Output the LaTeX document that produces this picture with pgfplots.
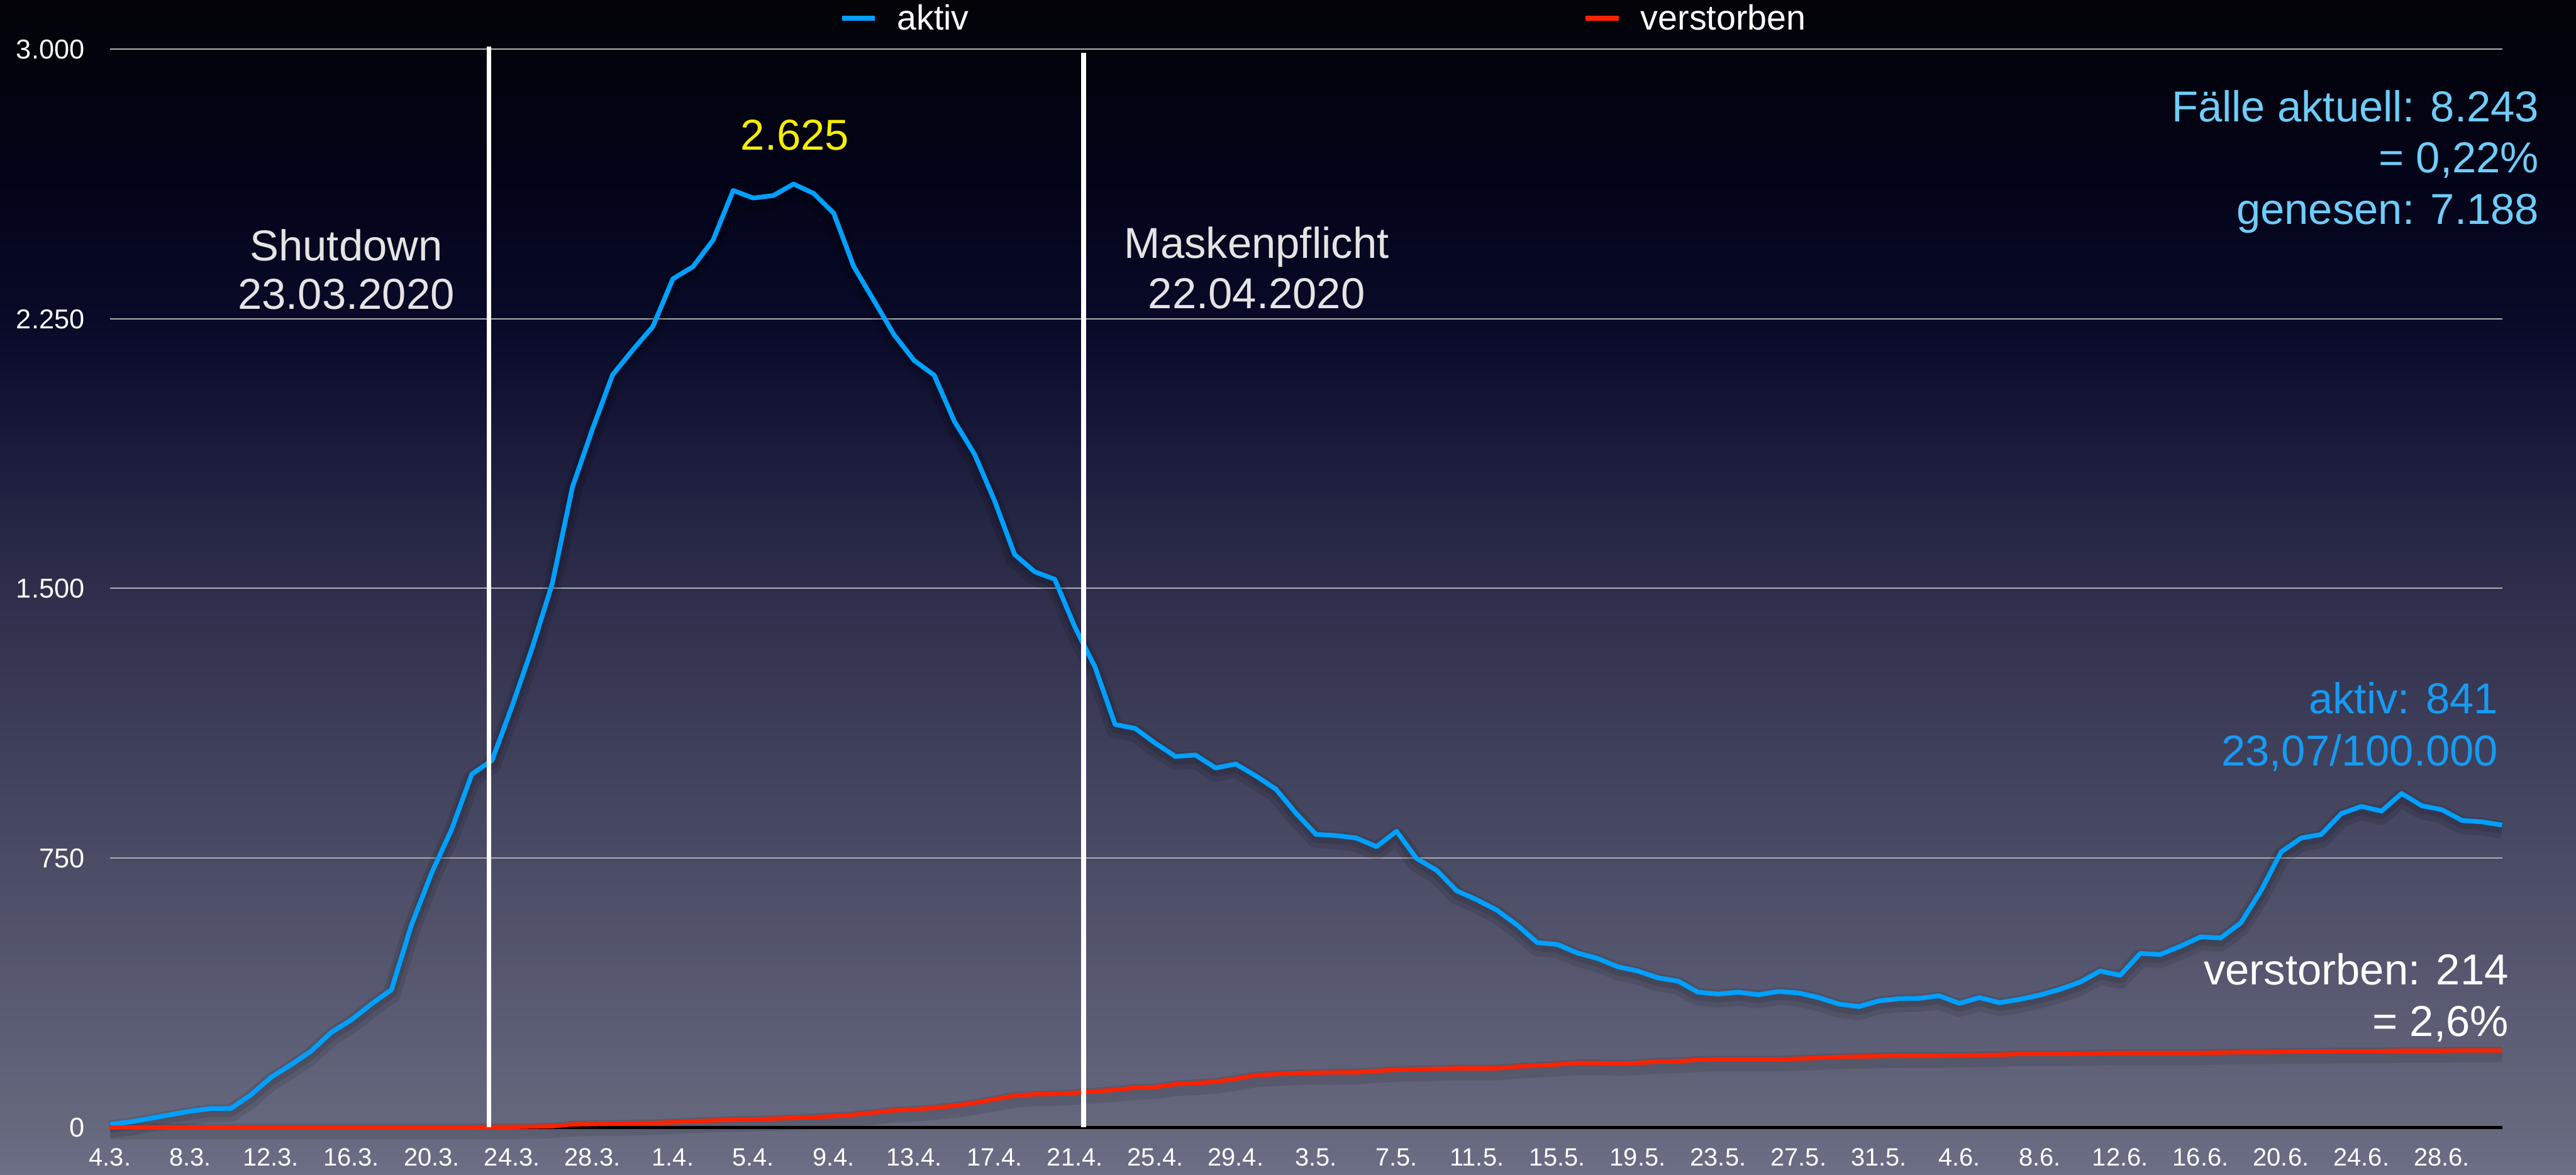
\documentclass[border=0pt]{standalone}
\usepackage{fontspec}
\setmainfont{Liberation Sans}
\usepackage{pgfplots}
\usepackage{pgfplotstable}
\pgfplotsset{compat=1.18}

\definecolor{aktivblue}{RGB}{0,160,255}
\definecolor{totred}{RGB}{255,34,0}
\definecolor{annotgray}{RGB}{228,228,228}
\definecolor{peakyellow}{RGB}{245,238,0}
\definecolor{lightcyan}{RGB}{110,205,248}
\definecolor{aktivtxt}{RGB}{22,155,242}
\definecolor{gridgray}{RGB}{175,175,180}
\definecolor{bg0}{RGB}{108,110,134}
\definecolor{bg1}{RGB}{102,104,126}
\definecolor{bg2}{RGB}{74,75,100}
\definecolor{bg3}{RGB}{46,46,76}
\definecolor{bg4}{RGB}{22,22,55}
\definecolor{bg5}{RGB}{8,10,40}
\definecolor{bg6}{RGB}{3,3,22}
\definecolor{bg7}{RGB}{3,3,8}

\pgfdeclareverticalshading{bgshade}{100bp}{color(0bp)=(bg0); color(25bp)=(bg0); color(27bp)=(bg1); color(38.5bp)=(bg2); color(50bp)=(bg3); color(57.2bp)=(bg4); color(61.4bp)=(bg5); color(68.3bp)=(bg6); color(75bp)=(bg7); color(100bp)=(bg7)}

\pgfplotstableread{
d a v
0 8 0
1 15 0
2 25 0
3 35 0
4 45 0
5 52 0
6 52 0
7 90 0
8 139 0
9 174 0
10 212 0
11 264 0
12 299 0
13 343 0
14 383 0
15 564 0
16 708 0
17 830 0
18 983 0
19 1021 1
20 1172 1
21 1334 2
22 1513 3
23 1781 8
24 1943 9
25 2094 10
26 2163 11
27 2228 12
28 2361 14
29 2395 17
30 2469 19
31 2607 21
32 2586 22
33 2593 24
34 2625 26
35 2599 28
36 2544 31
37 2395 35
38 2301 41
39 2206 47
40 2134 50
41 2093 54
42 1965 60
43 1874 68
44 1744 78
45 1594 88
46 1546 92
47 1525 93
48 1392 96
49 1281 100
50 1121 104
51 1110 110
52 1069 112
53 1032 120
54 1036 123
55 1000 127
56 1011 135
57 978 145
58 941 148
59 874 151
60 815 152
61 812 153
62 805 153
63 781 157
64 824 160
65 748 162
66 715 163
67 658 164
68 633 164
69 604 164
70 563 169
71 514 172
72 509 175
73 485 179
74 470 179
75 447 177
76 435 179
77 416 183
78 407 184
79 376 188
80 371 189
81 376 189
82 369 189
83 378 189
84 374 191
85 361 193
86 343 196
87 336 197
88 352 198
89 358 199
90 359 199
91 366 199
92 345 200
93 361 201
94 347 202
95 356 204
96 368 204
97 384 204
98 404 205
99 435 206
100 423 207
101 484 207
102 481 207
103 504 207
104 530 207
105 527 208
106 569 209
107 658 209
108 766 210
109 805 211
110 815 211
111 873 212
112 893 212
113 880 212
114 929 213
115 895 213
116 884 213
117 854 214
118 850 214
119 841 214
}\coviddata

\newcommand{\annfont}{\fontsize{23.5pt}{28pt}\selectfont}

\begin{document}
\begin{tikzpicture}
\shade[shading=bgshade] (-21mm,-9mm) rectangle (470.6mm,215.1mm);
\begin{axis}[
  at={(0,0)}, anchor=south west,
  width=456.5mm, height=205.7mm, scale only axis,
  xmin=0, xmax=119, ymin=0, ymax=3000,
  clip=false,
  axis x line*=bottom, axis y line*=left,
  x axis line style={black, line width=0.6mm},
  y axis line style={draw=none},
  major tick length=0pt,
  xtick={0,4,...,116},
  xticklabels={4.3.,8.3.,12.3.,16.3.,20.3.,24.3.,28.3.,1.4.,5.4.,9.4.,13.4.,17.4.,21.4.,25.4.,29.4.,3.5.,7.5.,11.5.,15.5.,19.5.,23.5.,27.5.,31.5.,4.6.,8.6.,12.6.,16.6.,20.6.,24.6.,28.6.},
  ytick={0,750,1500,2250,3000},
  yticklabels={0,750,1.500,2.250,3.000},
  xticklabel style={text=white, anchor=base, inner sep=0pt, yshift=-7.4mm, font=\fontsize{13.6pt}{16pt}\selectfont},
  yticklabel style={text=white, anchor=base east, inner sep=0pt, xshift=-4.8mm, yshift=-1.86mm, font=\fontsize{14.8pt}{17pt}\selectfont},
  ymajorgrids,
  grid style={gridgray, line width=0.25mm},
  legend columns=2,
  legend image code/.code={\draw[line width=1mm,#1] (0mm,0mm) -- (6.3mm,0mm);},
  legend style={at={(0.3049,1.0287)}, anchor=west, draw=none, fill=none, text=white,
    font=\fontsize{19pt}{22pt}\selectfont, inner sep=0pt, outer sep=0pt,
    nodes={inner sep=0pt},
    /tikz/every odd column/.append style={column sep=3.7mm},
    /tikz/every even column/.append style={column sep=117.2mm}},
]
\addplot[black, opacity=0.10, line width=3.4mm, yshift=-0.9mm, line join=round, forget plot] table[x=d, y=a] {\coviddata};
\addplot[black, opacity=0.10, line width=2.0mm, yshift=-0.6mm, line join=round, forget plot] table[x=d, y=a] {\coviddata};
\addplot[black, opacity=0.10, line width=3.0mm, yshift=-0.8mm, line join=round, forget plot] table[x=d, y=v] {\coviddata};
\addplot[aktivblue, line width=0.9mm, line join=round] table[x=d, y=a] {\coviddata};
\addlegendentry{aktiv}
\addplot[totred, line width=0.8mm, line join=round] table[x=d, y=v] {\coviddata};
\addlegendentry{verstorben}

\draw[white, line width=0.9mm] (axis cs:18.85,0) -- (axis cs:18.85,3008);
\draw[white, line width=0.9mm] (axis cs:48.44,0) -- (axis cs:48.44,2990);

\begin{scope}[every node/.style={inner sep=0pt, font=\annfont}]
\node[anchor=base, text=annotgray] at (axis cs:11.75,2412) {Shutdown};
\node[anchor=base, text=annotgray] at (axis cs:11.75,2276) {23.03.2020};
\node[anchor=base, text=annotgray] at (axis cs:57.04,2418) {Maskenpflicht};
\node[anchor=base, text=annotgray] at (axis cs:57.04,2278) {22.04.2020};
\node[anchor=base, text=peakyellow] at (axis cs:34.07,2720) {2.625};
\node[anchor=base east, text=lightcyan] at (axis cs:120.85,2799) {Fälle aktuell: 8.243};
\node[anchor=base east, text=lightcyan] at (axis cs:120.85,2656) {= 0,22\%};
\node[anchor=base east, text=lightcyan] at (axis cs:120.85,2513) {genesen: 7.188};
\node[anchor=base east, text=aktivtxt] at (axis cs:118.82,1150.6) {aktiv: 841};
\node[anchor=base east, text=aktivtxt] at (axis cs:118.82,1006.3) {23,07/100.000};
\node[anchor=base east, text=white] at (axis cs:119.34,396.7) {verstorben: 214};
\node[anchor=base east, text=white] at (axis cs:119.34,253.8) {= 2,6\%};
\end{scope}
\end{axis}
\pgfresetboundingbox
\path[use as bounding box] (-21mm,-9mm) rectangle (470.6mm,215.1mm);
\end{tikzpicture}
\end{document}
